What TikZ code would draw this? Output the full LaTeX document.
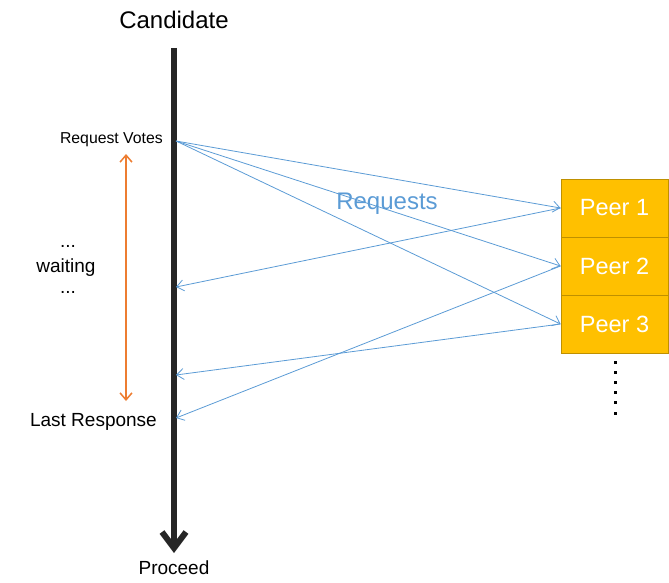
\documentclass[tikz,border=0pt]{standalone}
\usepackage{fontspec}
\setmainfont{Liberation Sans}
\usetikzlibrary{arrows.meta}
\definecolor{reqblue}{HTML}{5B9BD5}
\definecolor{waitorange}{HTML}{ED7D31}
\definecolor{peergold}{HTML}{FFC000}
\definecolor{peeredge}{HTML}{BF9000}
\tikzset{
  peer/.style={rectangle, draw=peeredge, line width=1pt, fill=peergold, text=white,
    minimum width=107pt, minimum height=58pt, inner sep=0pt,
    font=\fontsize{23.5}{27}\selectfont},
  msg/.style={draw=reqblue, line width=0.8pt, -{Straight Barb[length=7pt,width=11pt]}},
  side/.style={font=\fontsize{19}{22}\selectfont, inner sep=0pt}
}
\begin{document}
\begin{tikzpicture}[x=1pt,y=-1pt]
\useasboundingbox (0,0) rectangle (669,583);
% candidate time line
\node[font=\fontsize{24}{28}\selectfont, inner sep=0pt] (cand) at (174,20){Candidate};
\coordinate (ltop) at (174,48);
\coordinate (lbot) at (174,553);
\draw[line width=6pt, color=black!85, -{Straight Barb[length=16pt,width=24pt]}](ltop) -- (lbot);
\node[side] (proceed) at (174,568){Proceed};
\node[side, anchor=east, font=\fontsize{15.8}{19}\selectfont] (reqv) at (163,140){Request Votes};
\node[side] (dots1) at (68,246){...};
\node[side] (wait) at (66,268){waiting};
\node[side] (dots2) at (68,292){...};
\node[side, anchor=east] (last) at (157,422){Last Response};
% waiting interval
\coordinate (wtop) at (126,154);
\coordinate (wbot) at (126,401);
\draw[draw=waitorange, line width=1.5pt, {Straight Barb[length=7pt,width=12pt]}-{Straight Barb[length=7pt,width=12pt]}](wtop) -- (wbot);
% peers
\node[peer] (p1) at (614.5,208){Peer 1};
\node[peer] (p2) at (614.5,266){Peer 2};
\node[peer] (p3) at (614.5,324){Peer 3};
\foreach \y in {361,371,381,391,401,412}
  \fill (613.5,\y) rectangle ++(3,3);
% messages
\coordinate (snd) at (176,141);
\coordinate (r1) at (176,287);
\coordinate (r3) at (176,375);
\coordinate (r2) at (176,418);
\draw[msg](snd) -- (p1.west);
\draw[msg](snd) -- (p2.west);
\draw[msg](snd) -- (p3.west);
\draw[msg](p1.west) -- (r1);
\draw[msg](p3.west) -- (r3);
\draw[msg](p2.west) -- (r2);
\node[text=reqblue, font=\fontsize{24}{28}\selectfont, inner sep=0pt] (reqlbl) at (387,204){Requests};
\end{tikzpicture}
\end{document}
